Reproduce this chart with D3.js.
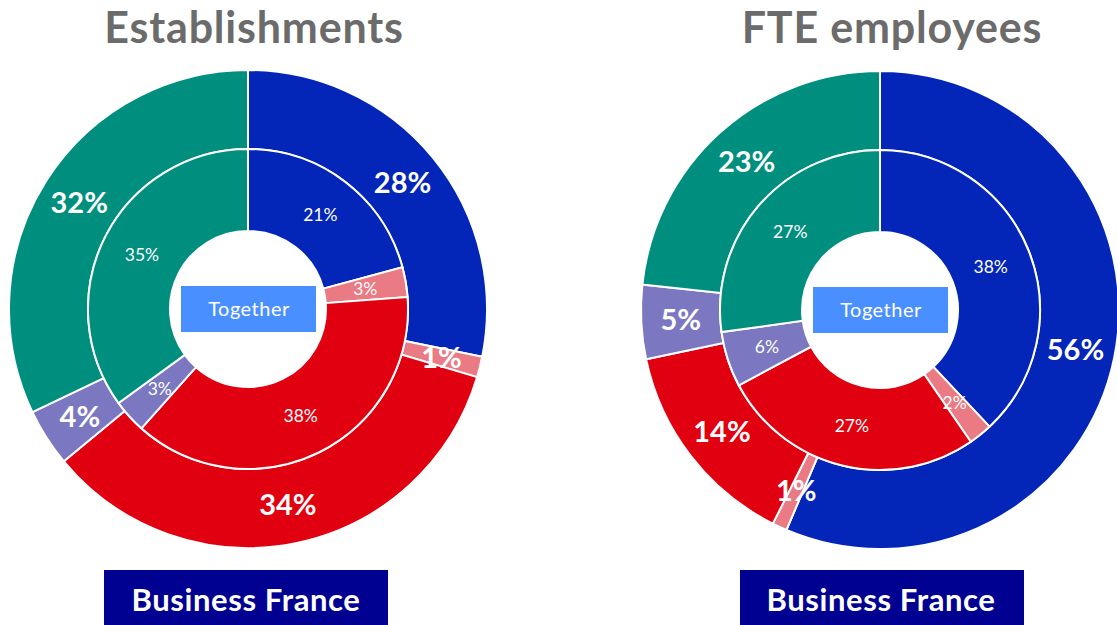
<!DOCTYPE html>
<html>
<head>
<meta charset="utf-8">
<script src="https://cdn.jsdelivr.net/npm/d3@7"></script>
<style>
  body { margin: 0; background: #fff; }
  svg { display: block; font-family: Lato, "Noto Sans", sans-serif; }
</style>
</head>
<body>
<svg id="chart" width="1117" height="625"></svg>
<script>
// categories, clockwise from 12 o'clock
var categories = ["Blue", "Pink", "Red", "Purple", "Teal"];
var colors = ["#0326b8", "#ea7a83", "#e1000f", "#7b78c1", "#008f7e"];

var titles = ["Establishments", "FTE employees"];
var centerLabel = "Together";
var bottomLabel = "Business France";

// outer ring = Business France, inner ring = Together (percent)
var estabOuter = [28.2, 1.4, 34.4, 3.9, 32.1];
var estabInner = [20.8, 3.0, 37.8, 3.4, 35.0];
var fteOuter = [56.4, 1.0, 14.3, 5.0, 23.3];
var fteInner = [38.0, 2.4, 26.8, 5.6, 27.2];

var charts = [
    {title: titles[0], outer: estabOuter, inner: estabInner, cx: 248, cy: 309, tx: 254, bx: 104, btx: 246},
    {title: titles[1], outer: fteOuter, inner: fteInner, cx: 880, cy: 310, tx: 892, bx: 740, btx: 881}
];

var svg = d3.select("#chart");

var pie = d3.pie().sort(null).value(function(d) { return d; });

var rHole = 78, rMid = 160, rOuter = 239;

var innerArc = d3.arc().innerRadius(rHole).outerRadius(rMid);
var outerArc = d3.arc().innerRadius(rMid).outerRadius(rOuter);

charts.forEach(function(c) {
    var g = svg.append("g")
        .attr("transform", "translate(" + c.cx + "," + c.cy + ")");

    // outer ring
    var outerData = pie(c.outer);
    g.selectAll("path.outer").data(outerData).enter()
        .append("path")
        .attr("class", "outer")
        .attr("d", outerArc)
        .attr("fill", function(d, i) { return colors[i]; })
        .attr("stroke", "#fff")
        .attr("stroke-width", 2);

    g.selectAll("text.outer").data(outerData).enter()
        .append("text")
        .attr("class", "outer")
        .attr("transform", function(d) { return "translate(" + outerArc.centroid(d) + ")"; })
        .attr("text-anchor", "middle")
        .attr("dy", "0.36em")
        .attr("fill", "#fff")
        .attr("font-weight", 700)
        .attr("font-size", 29)
        .text(function(d) { return Math.round(d.value) + "%"; });

    // inner ring
    var innerData = pie(c.inner);
    g.selectAll("path.inner").data(innerData).enter()
        .append("path")
        .attr("class", "inner")
        .attr("d", innerArc)
        .attr("fill", function(d, i) { return colors[i]; })
        .attr("stroke", "#fff")
        .attr("stroke-width", 2);

    g.selectAll("text.inner").data(innerData).enter()
        .append("text")
        .attr("class", "inner")
        .attr("transform", function(d) { return "translate(" + innerArc.centroid(d) + ")"; })
        .attr("text-anchor", "middle")
        .attr("dy", "0.36em")
        .attr("fill", "#fff")
        .attr("font-size", 17.5)
        .text(function(d) { return Math.round(d.value) + "%"; });

    // centre box
    g.append("rect")
        .attr("x", -67).attr("y", -23)
        .attr("width", 135).attr("height", 46)
        .attr("fill", "#4a8fff");
    g.append("text")
        .attr("x", 1).attr("y", 0)
        .attr("dy", "0.35em")
        .attr("text-anchor", "middle")
        .attr("fill", "#fff")
        .attr("font-size", 20)
        .attr("letter-spacing", 0.5)
        .text(centerLabel);

    // title
    svg.append("text")
        .attr("x", c.tx).attr("y", 43)
        .attr("text-anchor", "middle")
        .attr("fill", "#6b6b6b")
        .attr("font-weight", 700)
        .attr("font-size", 43)
        .attr("letter-spacing", 0.8)
        .text(c.title);

    // bottom box
    svg.append("rect")
        .attr("x", c.bx).attr("y", 570)
        .attr("width", 284).attr("height", 60)
        .attr("fill", "#000091");
    svg.append("text")
        .attr("x", c.btx).attr("y", 611)
        .attr("text-anchor", "middle")
        .attr("fill", "#fff")
        .attr("font-weight", 700)
        .attr("font-size", 31)
        .attr("letter-spacing", 0.6)
        .text(bottomLabel);
});
</script>
</body>
</html>
